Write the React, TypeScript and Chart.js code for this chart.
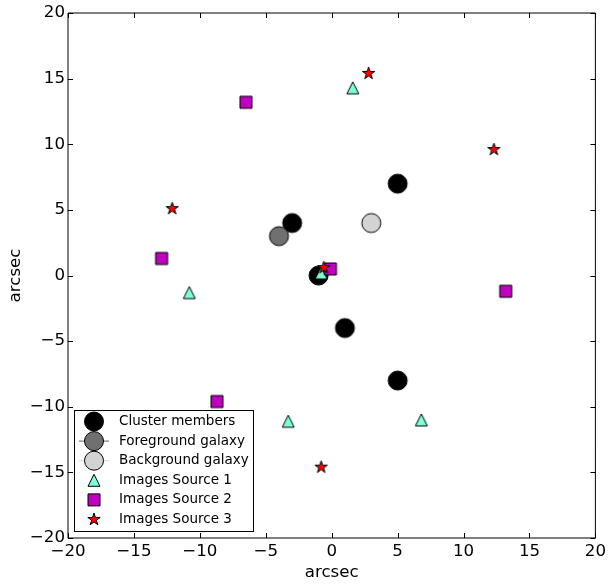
import React, { useEffect, useRef } from 'react';
import { Chart, registerables } from 'chart.js';

Chart.register(...registerables);

// ---- data ----
const clusterX = [-3, 5, -1, 1, 5];
const clusterY = [4, 7, 0, -4, -8];
const foregroundX = [-4];
const foregroundY = [3];
const backgroundX = [3];
const backgroundY = [4];
const source1X = [1.6, -10.8, -3.3, 6.8, -0.8];
const source1Y = [14.3, -1.3, -11.1, -11.0, 0.2];
const source2X = [-6.5, -12.9, -8.7, 13.2, -0.1];
const source2Y = [13.2, 1.3, -9.6, -1.2, 0.5];
const source3X = [2.8, 12.3, -12.1, -0.8, -0.6];
const source3Y = [15.4, 9.6, 5.1, -14.6, 0.6];
const seriesLabels = [
  'Cluster members',
  'Foreground galaxy',
  'Background galaxy',
  'Images Source 1',
  'Images Source 2',
  'Images Source 3',
];
const axisMin = -20;
const axisMax = 20;
const tickStep = 5;
const axisTitle = 'arcsec';

const FONT = '"DejaVu Sans", "Liberation Sans", sans-serif';

type Kind = 'circle' | 'square' | 'triangle' | 'star';

function drawShape(g: CanvasRenderingContext2D, kind: Kind, cx: number, cy: number, size: number, fill: string) {
  g.save();
  g.beginPath();
  if (kind === 'circle') {
    g.arc(cx, cy, size, 0, Math.PI * 2);
  } else if (kind === 'square') {
    g.rect(cx - size, cy - size, size * 2, size * 2);
  } else if (kind === 'triangle') {
    g.moveTo(cx, cy - size);
    g.lineTo(cx - size, cy + size);
    g.lineTo(cx + size, cy + size);
    g.closePath();
  } else {
    const inner = size * 0.381966;
    for (let i = 0; i < 10; i++) {
      const r = i % 2 === 0 ? size : inner;
      const a = -Math.PI / 2 + (i * Math.PI) / 5;
      const px = cx + r * Math.cos(a);
      const py = cy + r * Math.sin(a);
      if (i === 0) g.moveTo(px, py);
      else g.lineTo(px, py);
    }
    g.closePath();
  }
  g.fillStyle = fill;
  g.fill();
  g.lineWidth = 1;
  g.lineJoin = 'miter';
  g.strokeStyle = '#000';
  g.stroke();
  g.restore();
}

function makeMarker(kind: Kind, size: number, fill: string) {
  const dim = Math.ceil(size * 2 + 4);
  const c = document.createElement('canvas');
  c.width = dim;
  c.height = dim;
  const g = c.getContext('2d')!;
  drawShape(g, kind, dim / 2, dim / 2, size, fill);
  return c;
}

const fmt = (v: number) => (v < 0 ? '\u2212' + Math.abs(v) : String(v));

const framePlugin = {
  id: 'frameTicks',
  afterDatasetsDraw(chart: any) {
    const { ctx, chartArea } = chart;
    const { left, right, top, bottom } = chartArea;
    const xs = chart.scales.x;
    const ys = chart.scales.y;
    ctx.save();
    ctx.strokeStyle = '#000';
    ctx.lineWidth = 1;
    ctx.beginPath();
    ctx.rect(left, top, right - left, bottom - top);
    ctx.stroke();
    const tl = 5;
    ctx.beginPath();
    for (let v = axisMin; v <= axisMax; v += tickStep) {
      const px = Math.round(xs.getPixelForValue(v)) + 0.5;
      ctx.moveTo(px, bottom);
      ctx.lineTo(px, bottom - tl);
      ctx.moveTo(px, top);
      ctx.lineTo(px, top + tl);
      const py = Math.round(ys.getPixelForValue(v)) + 0.5;
      ctx.moveTo(left, py);
      ctx.lineTo(left + tl, py);
      ctx.moveTo(right, py);
      ctx.lineTo(right - tl, py);
    }
    ctx.stroke();
    ctx.restore();
  },
};

const legendPlugin = {
  id: 'boxLegend',
  afterDraw(chart: any) {
    const { ctx, chartArea } = chart;
    const x0 = Math.round(chartArea.left) + 6.5;
    const y1 = Math.round(chartArea.bottom) - 6.5;
    const w = 179;
    const h = 121;
    const y0 = y1 - h;
    ctx.save();
    ctx.fillStyle = '#fff';
    ctx.strokeStyle = '#000';
    ctx.lineWidth = 1;
    ctx.fillRect(x0, y0, w, h);
    ctx.strokeRect(x0, y0, w, h);
    const ds = chart.data.datasets;
    const mx = x0 + 19.5;
    ctx.font = `13.5px ${FONT}`;
    ctx.textBaseline = 'middle';
    ctx.textAlign = 'left';
    ds.forEach((d: any, i: number) => {
      const cy = y0 + 11 + i * 19.6;
      if (d.legendLine) {
        ctx.beginPath();
        ctx.strokeStyle = d.legendLine;
        ctx.lineWidth = 1;
        ctx.moveTo(mx - 15, cy);
        ctx.lineTo(mx + 15, cy);
        ctx.stroke();
      }
      drawShape(ctx, d.markerKind, mx, cy, d.markerSize, d.markerFill);
      ctx.fillStyle = '#000';
      ctx.fillText(d.label, x0 + 44.5, cy);
    });
    ctx.restore();
  },
};

export default function App() {
  const ref = useRef<HTMLCanvasElement>(null);
  useEffect(() => {
    const canvas = ref.current!;
    const series = [
      { xs: clusterX, ys: clusterY, kind: 'circle' as Kind, size: 9.5, fill: '#000000', line: null },
      { xs: foregroundX, ys: foregroundY, kind: 'circle' as Kind, size: 9.5, fill: '#707070', line: '#606060' },
      { xs: backgroundX, ys: backgroundY, kind: 'circle' as Kind, size: 9.5, fill: '#d3d3d3', line: '#d8d8d8' },
      { xs: source1X, ys: source1Y, kind: 'triangle' as Kind, size: 6, fill: '#7fffd4', line: null },
      { xs: source2X, ys: source2Y, kind: 'square' as Kind, size: 6, fill: '#c000c0', line: null },
      { xs: source3X, ys: source3Y, kind: 'star' as Kind, size: 6.5, fill: '#ff0000', line: null },
    ];
    const datasets = series.map((s, i) => ({
      label: seriesLabels[i],
      data: s.xs.map((x, j) => ({ x, y: s.ys[j] })),
      pointStyle: makeMarker(s.kind, s.size, s.fill),
      pointRadius: s.size,
      backgroundColor: s.fill,
      borderColor: '#000',
      showLine: false,
      order: series.length - i,
      markerKind: s.kind,
      markerSize: s.size,
      markerFill: s.fill,
      legendLine: s.line,
    }));
    const tickFont = { family: FONT, size: 16.67 };
    const chart = new Chart(canvas, {
      type: 'scatter',
      data: { datasets: datasets as any },
      options: {
        animation: false,
        responsive: false,
        events: [],
        layout: { padding: { top: 12, right: 14, left: 0, bottom: 0 } },
        plugins: { legend: { display: false }, tooltip: { enabled: false } },
        scales: {
          x: {
            type: 'linear',
            min: axisMin,
            max: axisMax,
            grid: { display: false, drawTicks: false },
            border: { display: false },
            ticks: { stepSize: tickStep, color: '#000', font: tickFont, padding: 4, callback: (v: any) => fmt(Number(v)), maxRotation: 0 },
            title: { display: true, text: axisTitle, color: '#000', font: tickFont, padding: { top: 0, bottom: 4 } },
            afterFit: (s: any) => { s.height = 49; },
          },
          y: {
            type: 'linear',
            min: axisMin,
            max: axisMax,
            grid: { display: false, drawTicks: false },
            border: { display: false },
            ticks: { stepSize: tickStep, color: '#000', font: tickFont, padding: 3, callback: (v: any) => fmt(Number(v)) },
            title: { display: true, text: axisTitle, color: '#000', font: tickFont, padding: { top: 6, bottom: 0 } },
            afterFit: (s: any) => { s.width = 68; },
          },
        },
      } as any,
      plugins: [framePlugin, legendPlugin],
    });
    return () => chart.destroy();
  }, []);
  return (
    <div style={{ position: 'absolute', left: 0, top: 0, width: 610, height: 587, background: '#fff' }}>
      <canvas ref={ref} width={610} height={587} />
    </div>
  );
}
